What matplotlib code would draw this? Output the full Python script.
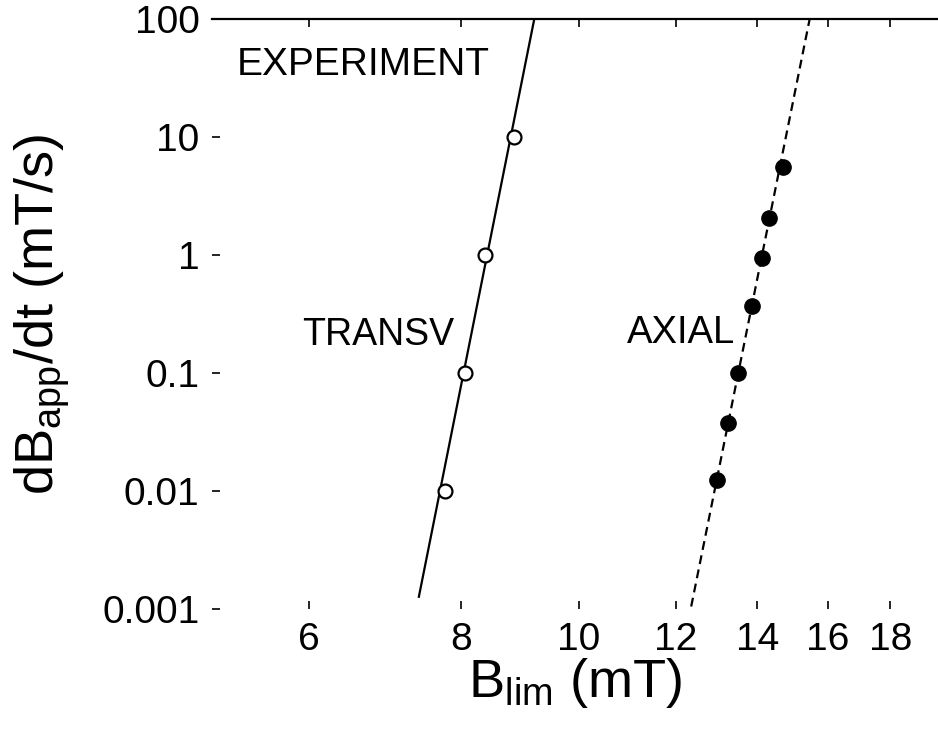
import numpy as np
import matplotlib
matplotlib.use("Agg")
import matplotlib.pyplot as plt
from matplotlib.ticker import FixedLocator, NullLocator

plt.rcParams['font.family'] = ['Liberation Sans', 'DejaVu Sans']
plt.rcParams['mathtext.fontset'] = 'custom'
plt.rcParams['mathtext.rm'] = 'Liberation Sans'
plt.rcParams['mathtext.it'] = 'Liberation Sans'

# transverse measurements (open circles)
transv_B = [8.85, 8.37, 8.06, 7.76]
transv_rate = [10, 1, 0.1, 0.01]
# fit line for transverse (end points)
transv_fit_B = [7.39, 9.19]
transv_fit_rate = [0.00127, 100]

# axial measurements (filled circles)
axial_B = [14.70, 14.31, 14.13, 13.87, 13.50, 13.25, 12.98]
axial_rate = [5.6, 2.05, 0.94, 0.37, 0.10, 0.038, 0.0124]
# fit line for axial (end points)
axial_fit_B = [12.36, 15.46]
axial_fit_rate = [0.00105, 100]

xticks = [6, 8, 10, 12, 14, 16, 18]
yticks = [0.001, 0.01, 0.1, 1, 10, 100]
ytick_labels = ['0.001', '0.01', '0.1', '1', '10', '100']

fig = plt.figure(figsize=(9.38, 7.36), dpi=100)
ax = fig.add_axes([212 / 938, 127 / 736, 726 / 938, 590 / 736])

ax.plot(transv_fit_B, transv_fit_rate, color='black', lw=1.6)
ax.plot(transv_B, transv_rate, 'o', ms=10, mfc='white', mec='black', mew=1.6)

ax.plot(axial_fit_B, axial_fit_rate, color='black', lw=1.6, ls=(0, (4, 2.5)))
ax.plot(axial_B, axial_rate, 'o', ms=11, mfc='black', mec='black')

ax.set_xscale('log')
ax.set_yscale('log')
ax.set_xlim(5, 19.7)
ax.set_ylim(0.001, 100)

ax.xaxis.set_major_locator(FixedLocator(xticks))
ax.xaxis.set_minor_locator(NullLocator())
ax.set_xticklabels([str(t) for t in xticks])
ax.yaxis.set_major_locator(FixedLocator(yticks))
ax.yaxis.set_minor_locator(NullLocator())
ax.set_yticklabels(ytick_labels)

ax.tick_params(axis='both', which='major', direction='in', length=6, width=1.2,
               labelsize=28, pad=9, top=True, right=False)

for side in ['left', 'bottom', 'right']:
    ax.spines[side].set_visible(False)
ax.spines['top'].set_linewidth(1.6)

ax.set_xlabel(r'$\mathregular{B_{lim}\ (mT)}$', fontsize=39, labelpad=-1)
ax.set_ylabel(r'$\mathregular{dB_{app}/dt\ (mT/s)}$', fontsize=39, labelpad=22)

ax.text(0.034, 0.922, 'EXPERIMENT', transform=ax.transAxes, fontsize=28,
        ha='left', va='center')
ax.text(0.124, 0.464, 'TRANSV', transform=ax.transAxes, fontsize=27,
        ha='left', va='center')
ax.text(0.572, 0.468, 'AXIAL', transform=ax.transAxes, fontsize=27.5,
        ha='left', va='center')

fig.savefig('out.png', dpi=100)
